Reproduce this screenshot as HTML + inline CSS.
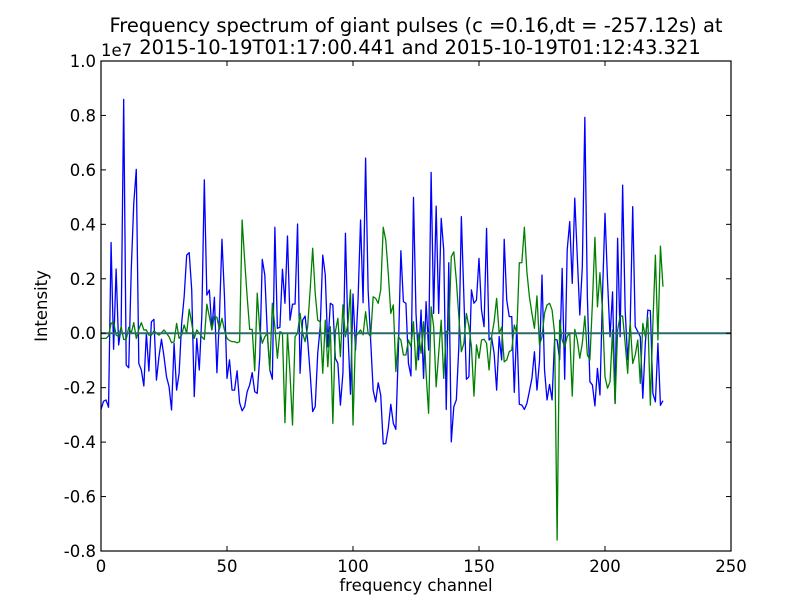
<!DOCTYPE html>
<html><head><meta charset="utf-8"><style>
html,body{margin:0;padding:0;background:#fff;}
svg{display:block;font-family:"DejaVu Sans","Liberation Sans",sans-serif;}
</style></head><body>
<svg id="chart" width="812" height="612" viewBox="0 0 812 612">
<rect x="0" y="0" width="812" height="612" fill="#fff"/>
<text x="416" y="32" font-size="19.5" text-anchor="middle">Frequency spectrum of giant pulses (c =0.16,dt = -257.12s) at</text>
<text x="420" y="54" font-size="19.5" text-anchor="middle">2015-10-19T01:17:00.441 and 2015-10-19T01:12:43.321</text>
<text x="101" y="56" font-size="16.5">1e7</text>
<text x="416" y="591" font-size="16.5" text-anchor="middle">frequency channel</text>
<text x="47" y="306" font-size="16.5" text-anchor="middle" transform="rotate(-90 47 306)">Intensity</text>
<g id="plot"></g>
</svg>
<script>
const xTicks=[0,50,100,150,200,250];
const yTicks=[-0.8,-0.6,-0.4,-0.2,0.0,0.2,0.4,0.6,0.8,1.0];
const blueValues=[-0.28,-0.25,-0.245,-0.272,0.333,-0.059,0.236,-0.043,0.024,0.859,-0.117,-0.127,0.232,0.477,0.602,-0.111,-0.135,-0.194,0,-0.139,0.042,0.051,-0.172,-0.086,-0.022,-0.086,-0.16,-0.196,-0.282,-0.037,-0.209,-0.147,0.036,0.134,0.287,0.296,0.159,-0.233,-0.019,-0.135,0.061,0.563,0.14,0.159,0.012,0.132,-0.145,0.061,0.345,0.134,-0.166,-0.098,-0.209,-0.209,-0.138,-0.255,-0.285,-0.27,-0.215,-0.19,-0.145,-0.215,
-0.221,-0.086,0.271,0.214,0,-0.135,-0.169,0.389,0.018,0.022,0.235,0.11,0.357,0.048,0.107,0.107,0.401,-0.147,0.048,0.063,-0.025,-0.147,-0.288,-0.27,-0.074,0.024,0.287,0.214,-0.05,0.11,0.104,-0.092,-0.111,-0.264,-0.147,0.367,0,-0.224,0.144,-0.062,0.122,0.416,0.112,0.643,0.159,-0.025,-0.209,-0.252,-0.182,-0.227,-0.407,-0.405,-0.349,-0.261,-0.331,-0.353,-0.062,0.303,0.116,0.11,-0.111,-0.157,0.499,
0.073,-0.098,0.085,-0.166,0.116,-0.062,0.591,0.073,0.467,0.073,0.422,0.306,-0.28,0.259,-0.399,-0.27,-0.245,-0.05,0.428,0.134,-0.169,-0.16,0.159,0.11,0.122,0.275,0.085,0.024,0.385,-0.025,-0.015,-0.074,-0.209,-0.012,-0.098,0.345,0.122,0.061,0.061,-0.217,0.03,-0.261,-0.264,-0.28,-0.258,-0.213,-0.166,-0.068,-0.209,-0.104,0.214,-0.135,-0.245,-0.188,-0.245,-0.022,-0.025,-0.098,0.238,-0.169,0.306,0.41,
0.183,0.496,0.281,0.067,0.244,0.793,0.134,-0.178,-0.19,-0.267,-0.129,-0.227,0.14,0.44,0.195,-0.013,0.152,-0.258,0.349,-0.013,0.544,0.085,-0.098,0.036,0.465,0.024,0.006,-0.013,-0.239,-0.037,0.085,0.083,-0.221,-0.252,-0.037,-0.265,-0.248];
const greenValues=[-0.019,-0.019,-0.019,-0.010,0.036,0.042,-0.007,-0.013,0.024,-0.023,-0.023,0.022,0,0.039,-0.019,0.014,0.039,0.012,0.012,-0.007,-0.007,0.009,0,-0.007,0.002,0.012,0,-0.013,-0.035,-0.031,0.036,-0.019,-0.007,0.030,0,0.088,0.036,-0.019,0.012,0,-0.013,-0.023,0.107,0.061,0.012,0.063,0.058,0.014,0.055,0.012,-0.019,-0.027,-0.031,-0.031,-0.035,-0.031,0.416,0.269,0.134,0.014,0.014,-0.138,
0.147,0.012,-0.037,-0.013,0,-0.135,0.11,0.024,-0.092,0.006,0,-0.329,0,-0.147,-0.337,-0.013,0,0.073,0,-0.031,0.024,0.159,0.312,0.147,0.048,0.042,-0.147,0.048,-0.123,0.024,-0.331,0.006,0.055,-0.086,0.104,-0.013,0.036,0.159,-0.337,-0.013,0,0.012,-0.006,0.079,0,-0.013,0.134,0.128,0.11,0.159,0.389,0.342,0.22,0.073,0.104,-0.141,-0.013,-0.025,-0.08,-0.08,-0.025,-0.05,0.042,
-0.135,0,-0.074,0.042,-0.147,-0.294,0.097,0.024,-0.197,-0.074,0.048,-0.166,0.006,0.012,0.281,0.299,0.195,0.061,-0.068,-0.037,0.073,0.024,-0.05,-0.231,-0.043,-0.092,-0.025,-0.022,-0.037,-0.135,-0.013,0.042,0.128,0,0.022,-0.105,-0.098,-0.068,-0.062,0.03,0,0.259,0.259,0.389,0.226,0.134,0.073,0.018,0.137,-0.043,-0.013,0.073,0.104,0.11,0.085,0,-0.76,0.048,-0.025,-0.05,-0.013,0.002,
-0.231,0.014,-0.025,-0.092,-0.037,0.063,-0.08,-0.098,0.11,0.352,0.097,0.222,0.085,-0.16,-0.202,-0.178,0.012,-0.258,0.012,0.063,0.063,-0.037,-0.147,0.039,-0.111,-0.08,-0.025,-0.184,0.036,-0.013,0.058,-0.264,0.036,0.287,-0.025,0.32,0.171];
const zeroLine=[0,0];

const NS='http://www.w3.org/2000/svg';
const L=101,R=731,T=61,B=551;
const xMin=0,xMax=250,yMin=-0.8,yMax=1.0;
function sx(v){return L+(v-xMin)/(xMax-xMin)*(R-L);}
function sy(v){return B-(v-yMin)/(yMax-yMin)*(B-T);}
const g=document.getElementById('plot');
function mk(tag,attrs){const e=document.createElementNS(NS,tag);for(const k in attrs)e.setAttribute(k,attrs[k]);g.appendChild(e);return e;}

function series(vals,color,name){
  const pts=vals.map((v,i)=>sx(i).toFixed(2)+','+sy(v).toFixed(2)).join(' ');
  const p=mk('polyline',{points:pts,fill:'none',stroke:color,'stroke-width':1.3,'stroke-linejoin':'round'});
  
  
}
series(blueValues,'#0000ff','series-blue');
series(greenValues,'#008000','series-green');
const zl=mk('line',{x1:sx(xMin),x2:sx(xMax),y1:sy(zeroLine[0]),y2:sy(zeroLine[1]),stroke:'#2b6b6b','stroke-width':2});



xTicks.forEach(t=>{
  const x=sx(t);
  const a=mk('line',{x1:x,x2:x,y1:B,y2:B-5,stroke:'#000'});
  
  
  const b=mk('line',{x1:x,x2:x,y1:T,y2:T+5,stroke:'#000'});
  
  
  const tx=mk('text',{x:x,y:B+21,'font-size':16.5,'text-anchor':'middle'});
  tx.textContent=String(t);
  
  
});
yTicks.forEach(t=>{
  const y=sy(t);
  const a=mk('line',{x1:L,x2:L+5,y1:y,y2:y,stroke:'#000'});
  
  
  const b=mk('line',{x1:R,x2:R-5,y1:y,y2:y,stroke:'#000'});
  
  
  const tx=mk('text',{x:L-5,y:y+6,'font-size':16.5,'text-anchor':'end'});
  tx.textContent=t.toFixed(1);
  
  
});
const fr=mk('rect',{x:L,y:T,width:R-L,height:B-T,fill:'none',stroke:'#000','stroke-width':1.2});


</script>
</body></html>
